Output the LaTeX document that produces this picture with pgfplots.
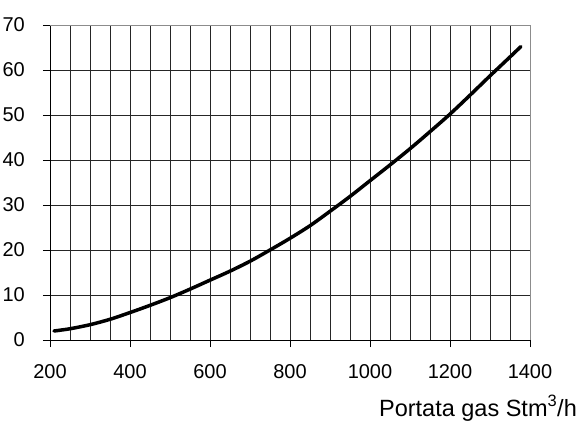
\documentclass[border=0pt]{standalone}
\usepackage{fontspec}
\setmainfont{Liberation Sans}
\usepackage{pgfplots}
\pgfplotsset{compat=1.18}
\begin{document}
\begin{tikzpicture}
\useasboundingbox (-50pt,-84pt) rectangle (534pt,340pt);
\begin{axis}[
 at={(0pt,0pt)}, anchor=south west,
 width=480pt, height=315pt, scale only axis,
 xmin=200, xmax=1400, ymin=0, ymax=70,
 axis x line=bottom, axis y line=left,
 axis line style={black, line width=0.8pt, -},
 xtick={200,400,...,1400}, ytick={0,10,...,70},
 minor x tick num=3,
 grid=both,
 major grid style={black!85, line width=0.8pt},
 minor grid style={black!85, line width=0.8pt},
 tick align=outside,
 major tick length=7pt, minor tick length=0pt,
 tick style={black, line width=0.8pt},
 /pgf/number format/assume math mode=true,
 /pgf/number format/1000 sep={},
 ticklabel style={font=\fontsize{20}{22}\selectfont},
 yticklabel style={inner sep=0pt, xshift=-18pt},
 xticklabel style={inner sep=0pt, yshift=-17pt},
 xlabel={Portata gas Stm\textsuperscript{3}/h},
 xlabel style={at={(axis description cs:1.098,-0.2413)}, anchor=base east, inner sep=0pt, font=\fontsize{23.5}{26}\selectfont},
 clip=false,
]
\addplot[black, line width=3.5pt, line cap=round, line join=round, smooth] coordinates {
(210,2.0) (250,2.5) (300,3.4) (350,4.6) (400,6.1) (450,7.7) (500,9.4)
(550,11.3) (600,13.3) (650,15.3) (700,17.5) (750,20.0) (800,22.6)
(850,25.4) (900,28.6) (950,31.9) (1000,35.4) (1050,38.9) (1100,42.5)
(1150,46.3) (1200,50.2) (1250,54.4) (1300,58.7) (1350,62.9) (1377,65.2)
};
\draw[black!45, line width=1pt] (rel axis cs:0,1) -- (rel axis cs:1,1) -- (rel axis cs:1,0);
\end{axis}
\end{tikzpicture}
\end{document}
